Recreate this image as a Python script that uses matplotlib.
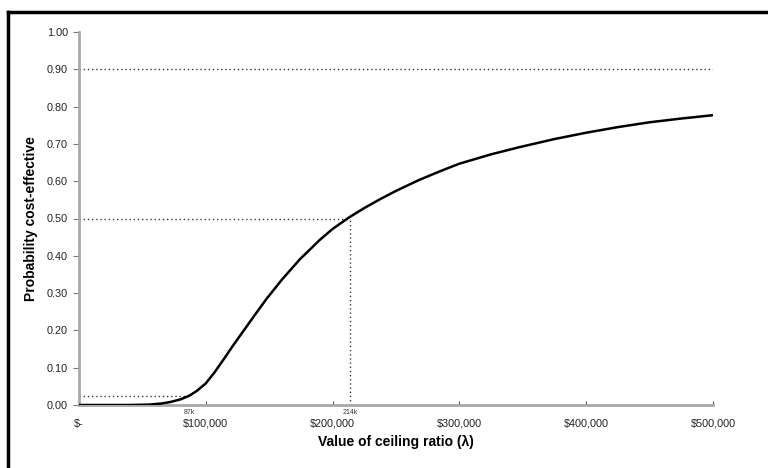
import numpy as np
import matplotlib.pyplot as plt
from matplotlib.lines import Line2D

plt.rcParams['font.family'] = ['Liberation Sans', 'DejaVu Sans']

# ceiling ratio (lambda) in $ thousands and probability cost-effective
wtp_k = [0, 40, 55, 65, 72, 80, 87, 93, 100, 107, 114, 121, 130, 139, 148,
         160, 174, 190, 200, 213, 225, 237, 250, 268, 285, 300, 325, 347,
         375, 400, 425, 450, 475, 500]
prob = [0, 0, 0.001, 0.004, 0.008, 0.015, 0.025, 0.038, 0.058, 0.088, 0.122,
        0.157, 0.2, 0.243, 0.285, 0.336, 0.39, 0.443, 0.472, 0.503, 0.528,
        0.551, 0.574, 0.603, 0.627, 0.647, 0.672, 0.691, 0.713, 0.730, 0.745,
        0.758, 0.768, 0.777]
wtp = [v * 1000 for v in wtp_k]

x_ticks = [0, 100000, 200000, 300000, 400000, 500000]
x_labels = ["$-", "$100,000", "$200,000", "$300,000", "$400,000", "$500,000"]
y_ticks = [0.0, 0.1, 0.2, 0.3, 0.4, 0.5, 0.6, 0.7, 0.8, 0.9, 1.0]

low_x, low_p = 87000, 0.025
mid_x, mid_p = 214000, 0.50
high_p = 0.90

fig = plt.figure(figsize=(7.68, 4.68), dpi=100)
ax = fig.add_axes([79 / 768, 1 - 405 / 468, (713 - 79) / 768, (405 - 32) / 468])

# dotted reference lines
dot = dict(color="#333333", linestyle=(0, (1, 2)), linewidth=1)
ax.plot([0, 500000], [high_p, high_p], **dot)
ax.plot([0, mid_x], [mid_p, mid_p], **dot)
ax.plot([mid_x, mid_x], [0, mid_p], **dot)
ax.plot([0, low_x], [low_p, low_p], **dot)

# acceptability curve
ax.plot(wtp, prob, color="black", linewidth=1.8, zorder=3)

ax.set_xlim(0, 500000)
ax.set_ylim(0, 1.0)
ax.set_xticks(x_ticks)
ax.set_xticklabels(x_labels)
ax.set_yticks(y_ticks)
ax.set_yticklabels([f"{v:.2f}" for v in y_ticks])

for side in ["top", "right"]:
    ax.spines[side].set_visible(False)
for side in ["left", "bottom"]:
    ax.spines[side].set_color("#a8a8a8")
    ax.spines[side].set_linewidth(2)

ax.tick_params(axis="x", direction="in", length=3, color="#555555",
               labelsize=7.8, pad=10, labelcolor="#222222")
ax.tick_params(axis="y", direction="out", length=4, color="#777777",
               labelsize=7.8, pad=4, labelcolor="#222222")

# small value labels under the axis
ax.text(low_x, -0.012, "87k", fontsize=5, ha="center", va="top", color="#333333")
ax.text(mid_x, -0.012, "214k", fontsize=5, ha="center", va="top", color="#333333")

ax.set_xlabel("Value of ceiling ratio (\u03bb)", fontsize=10, fontweight="bold", labelpad=4)
ax.set_ylabel("Probability cost-effective", fontsize=10, fontweight="bold", labelpad=6)

# outer frame (only left and top visible in the picture)
fig.add_artist(Line2D([8 / 768, 8 / 768], [-0.05, 1 - 12 / 468], color="black", linewidth=2.5))
fig.add_artist(Line2D([8 / 768, 1.05], [1 - 12 / 468, 1 - 12 / 468], color="black", linewidth=2.5))

fig.savefig("out.png", dpi=100)
